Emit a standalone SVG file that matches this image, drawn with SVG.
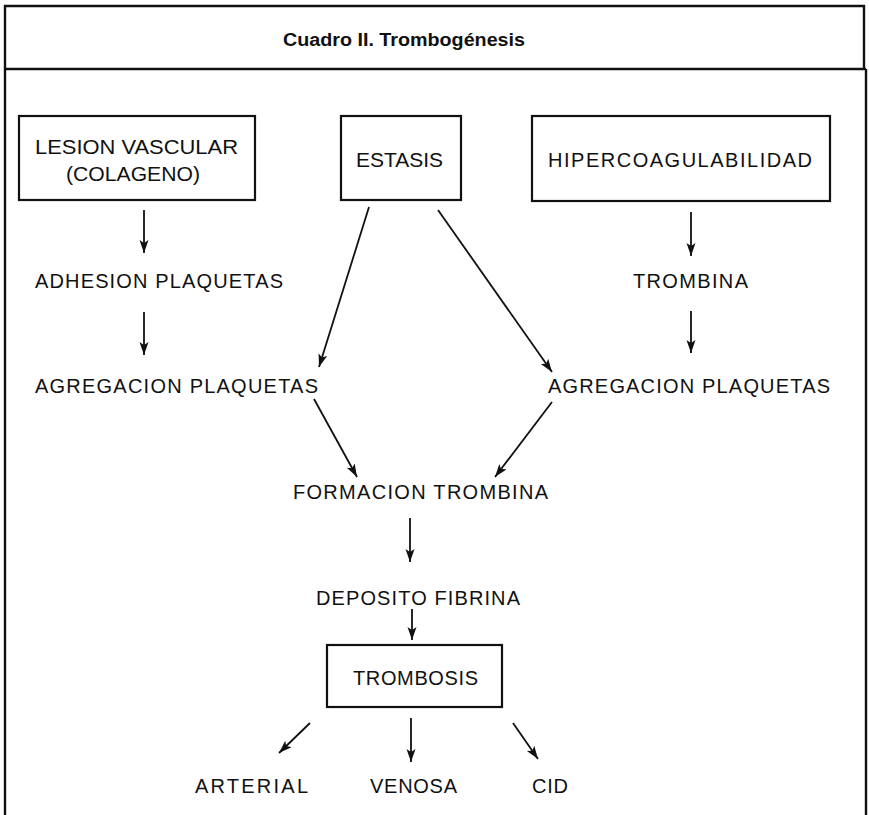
<svg xmlns="http://www.w3.org/2000/svg" width="869" height="815" viewBox="0 0 869 815">
<style>
.frame{fill:none;stroke:#111;stroke-width:2.4}
.box{fill:none;stroke:#111;stroke-width:2.2}
.t{font-family:"Liberation Sans",Arial,sans-serif;font-size:20px;fill:#111}
.title{font-family:"Liberation Sans",Arial,sans-serif;font-size:18px;font-weight:bold;fill:#111}
.arr{fill:none;stroke:#111;stroke-width:1.8;marker-end:url(#ah)}
</style>
<defs>
<marker id="ah" markerUnits="userSpaceOnUse" markerWidth="14" markerHeight="10" refX="13" refY="4.5" orient="auto" viewBox="0 0 14 10">
<path d="M0,0 L13,4.5 L0,9 L3,4.5 z" fill="#111"/>
</marker>
</defs>
<g id="frame">
<path class="frame" d="M5,815 V6 H864 V69 M5,69 H866 M866,69 V815"/>
<text class="title" x="283" y="46" textLength="242" lengthAdjust="spacingAndGlyphs">Cuadro II. Trombogénesis</text>
</g>
<g id="lesion">
<rect class="box" x="19" y="116" width="236" height="84"/>
<text class="t" x="35" y="154" textLength="203" lengthAdjust="spacingAndGlyphs">LESION VASCULAR</text>
<text class="t" x="66" y="181" textLength="134" lengthAdjust="spacingAndGlyphs">(COLAGENO)</text>
</g>
<g id="estasis">
<rect class="box" x="341" y="116" width="120" height="84"/>
<text class="t" x="356" y="167" textLength="87" lengthAdjust="spacingAndGlyphs">ESTASIS</text>
</g>
<g id="hiper">
<rect class="box" x="532" y="116" width="298" height="85"/>
<text class="t" x="548" y="167" textLength="264" lengthAdjust="spacing">HIPERCOAGULABILIDAD</text>
</g>
<g id="adhesion"><text class="t" x="35" y="288" textLength="248" lengthAdjust="spacing">ADHESION PLAQUETAS</text></g>
<g id="agregacion1"><text class="t" x="35" y="393" textLength="283" lengthAdjust="spacing">AGREGACION PLAQUETAS</text></g>
<g id="trombina"><text class="t" x="633" y="288" textLength="115" lengthAdjust="spacing">TROMBINA</text></g>
<g id="agregacion2"><text class="t" x="548" y="393" textLength="282" lengthAdjust="spacing">AGREGACION PLAQUETAS</text></g>
<g id="formacion"><text class="t" x="293" y="499" textLength="255" lengthAdjust="spacing">FORMACION TROMBINA</text></g>
<g id="deposito"><text class="t" x="316" y="605" textLength="204" lengthAdjust="spacing">DEPOSITO FIBRINA</text></g>
<g id="trombosis">
<rect class="box" x="327" y="645" width="175" height="62"/>
<text class="t" x="353" y="685" textLength="125" lengthAdjust="spacing">TROMBOSIS</text>
</g>
<g id="arterial"><text class="t" x="195" y="793" textLength="113" lengthAdjust="spacing">ARTERIAL</text></g>
<g id="venosa"><text class="t" x="370" y="793" textLength="87" lengthAdjust="spacing">VENOSA</text></g>
<g id="cid"><text class="t" x="532" y="793" textLength="36" lengthAdjust="spacing">CID</text></g>
<g id="connectors">
<line class="arr" x1="144" y1="210" x2="144" y2="253"/>
<line class="arr" x1="144" y1="312" x2="144" y2="355"/>
<line class="arr" x1="369" y1="207" x2="319" y2="367"/>
<line class="arr" x1="438" y1="210" x2="552" y2="372"/>
<line class="arr" x1="691" y1="212" x2="691" y2="256"/>
<line class="arr" x1="691" y1="311" x2="691" y2="353"/>
<line class="arr" x1="314" y1="399" x2="357" y2="477"/>
<line class="arr" x1="552" y1="402" x2="495" y2="477"/>
<line class="arr" x1="410" y1="518" x2="410" y2="562"/>
<line class="arr" x1="412" y1="609" x2="412" y2="640"/>
<line class="arr" x1="310" y1="723" x2="279" y2="753"/>
<line class="arr" x1="411" y1="718" x2="411" y2="762"/>
<line class="arr" x1="513" y1="723" x2="538" y2="759"/>
</g>
</svg>
